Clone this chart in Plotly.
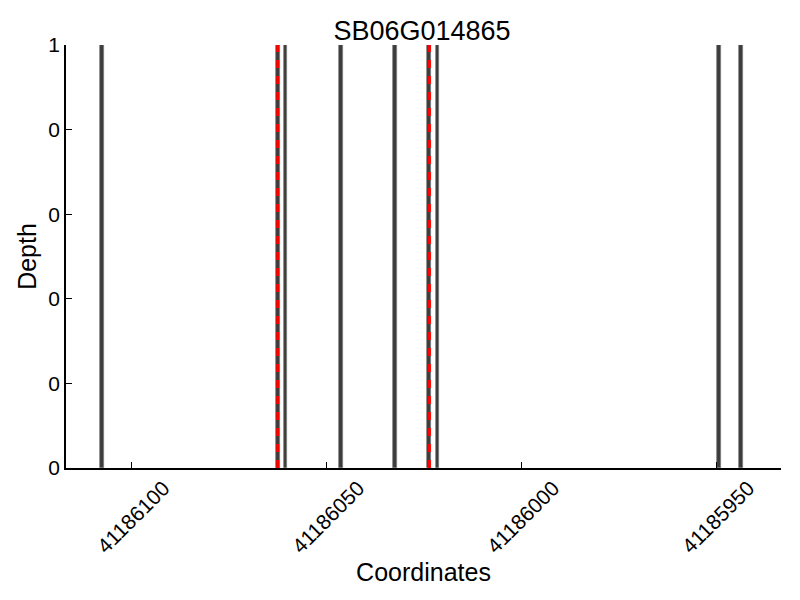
import plotly.graph_objects as go

# Data
coords = [41186107.5, 41186062.5, 41186060.5, 41186046.3, 41186032.5,
          41186023.6, 41186021.5, 41185949.4, 41185943.6]
depth = [1, 1, 1, 1, 1, 1, 1, 1, 1]
marked = [41186062.5, 41186023.6]
x_ticks = [41186100, 41186050, 41186000, 41185950]
y_ticks = [0, 0.2, 0.4, 0.6, 0.8, 1.0]
y_tick_text = ["0", "0", "0", "0", "0", "1"]

fig = go.Figure()
fig.add_trace(go.Bar(
    x=coords, y=depth, width=1.0,
    marker=dict(color="#3c3c3c", line=dict(color="#7a7a7a", width=0.7)),
    showlegend=False,
))
for m in marked:
    fig.add_trace(go.Scatter(
        x=[m, m], y=[0, 1], mode="lines",
        line=dict(color="#ff0000", width=3, dash="8px,8px"),
        showlegend=False, hoverinfo="skip",
    ))

fig.update_layout(
    width=800, height=600,
    margin=dict(l=58, r=27, t=37, b=140),
    plot_bgcolor="white", paper_bgcolor="white",
    font=dict(family="Liberation Sans, Arial, sans-serif", color="black"),
    title=dict(text="SB06G014865", x=0.5175, xanchor="center", y=0.963, yanchor="middle",
               font=dict(size=27, color="black")),
    bargap=0,
)
fig.update_xaxes(
    automargin=False,
    range=[41186116.8, 41185933.4],
    tickvals=x_ticks, ticktext=[str(v) for v in x_ticks],
    tickangle=-45, tickfont=dict(size=21), ticklabelshift=-32, ticklabelstandoff=-2,
    ticks="inside", ticklen=6, tickcolor="black", tickwidth=1,
    showline=True, linecolor="black", linewidth=1.5,
    showgrid=False, zeroline=False,
    title=dict(text="Coordinates", font=dict(size=25), standoff=4),
)
fig.update_yaxes(
    automargin=False,
    range=[0, 1],
    tickvals=y_ticks, ticktext=y_tick_text, tickfont=dict(size=21),
    ticks="inside", ticklen=6, tickcolor="black", tickwidth=1,
    showline=True, linecolor="black", linewidth=1.5,
    showgrid=False, zeroline=False,
    title=dict(text="Depth", font=dict(size=25), standoff=5),
)

fig.write_html("out.html")
